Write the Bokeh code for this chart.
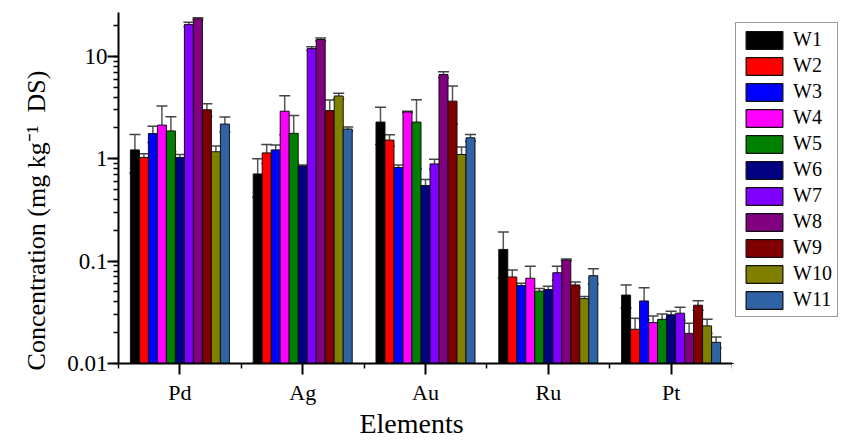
from bokeh.plotting import figure
from bokeh.layouts import row
from bokeh.models import (ColumnDataSource, Range1d, FixedTicker, Whisker, TeeHead,
                          Legend, LegendItem)
from bokeh.embed import file_html
from bokeh.resources import INLINE

elements = ["Pd", "Ag", "Au", "Ru", "Pt"]
series = ["W1", "W2", "W3", "W4", "W5", "W6", "W7", "W8", "W9", "W10", "W11"]
colors = ["#000000", "#FF0000", "#0000FF", "#FF00FF", "#008000", "#000080",
          "#8000FF", "#800080", "#800000", "#808000", "#3063A5"]
y_ticks = [0.01, 0.1, 1, 10]
y_tick_labels = ["0.01", "0.1", "1", "10"]

W1 = [1.22, 0.71, 2.28, 0.130, 0.0466]
W2 = [1.03, 1.14, 1.52, 0.070, 0.0216]
W3 = [1.76, 1.22, 0.82, 0.0577, 0.0408]
W4 = [2.13, 2.91, 2.86, 0.068, 0.0251]
W5 = [1.87, 1.77, 2.28, 0.0509, 0.027]
W6 = [1.03, 0.85, 0.548, 0.0528, 0.0299]
W7 = [20.5, 11.9, 0.89, 0.077, 0.031]
W8 = [23.3, 14.6, 6.64, 0.1026, 0.0197]
W9 = [3.01, 2.95, 3.65, 0.0585, 0.0371]
W10 = [1.17, 4.10, 1.10, 0.043, 0.0233]
W11 = [2.18, 1.95, 1.60, 0.072, 0.0161]

E1 = [0.50, 0.29, 0.90, 0.062, 0.012]
E2 = [0.09, 0.24, 0.19, 0.012, 0.006]
E3 = [0.32, 0.14, 0.05, 0.003, 0.014]
E4 = [1.15, 1.20, 0.05, 0.021, 0.004]
E5 = [0.70, 0.87, 1.48, 0.003, 0.0035]
E6 = [0.07, 0.02, 0.077, 0.004, 0.0024]
E7 = [1.0, 0.5, 0.10, 0.012, 0.0045]
E8 = [0.5, 0.5, 0.45, 0.002, 0.005]
E9 = [0.43, 0.80, 1.48, 0.004, 0.004]
E10 = [0.16, 0.26, 0.20, 0.002, 0.0037]
E11 = [0.37, 0.09, 0.12, 0.012, 0.002]

values = [W1, W2, W3, W4, W5, W6, W7, W8, W9, W10, W11]
errors = [E1, E2, E3, E4, E5, E6, E7, E8, E9, E10, E11]

NB = "\u00A0"
x_title = "Elements" + NB * 4
y_title = "Concentration (mg kg\u207B\u00B9" + NB + " DS)" + NB * 10

FONT = "Liberation Serif"
BAR_W = 0.0733

p = figure(width=732, height=441, y_axis_type="log",
           x_range=Range1d(-0.5, 4.5), y_range=Range1d(0.01, 26.8),
           output_backend="svg", toolbar_location=None,
           min_border_left=118, min_border_right=0,
           min_border_top=12, min_border_bottom=72)
p.outline_line_color = None
p.xgrid.grid_line_color = None
p.ygrid.grid_line_color = None

# legend panel (a second figure whose ranges show none of the data)
q = figure(width=111, height=441, x_range=Range1d(1000, 1001), y_range=Range1d(1000, 1001),
           output_backend="svg", toolbar_location=None,
           x_axis_location=None, y_axis_location=None,
           min_border_left=0, min_border_right=0, min_border_top=12, min_border_bottom=72)
q.outline_line_color = None
q.xgrid.grid_line_color = None
q.ygrid.grid_line_color = None

items = []
for i, (name, col) in enumerate(zip(series, colors)):
    xs = [k + (i - 5) * BAR_W for k in range(len(elements))]
    v = values[i]
    e = errors[i]
    src = ColumnDataSource(dict(x=xs, top=v,
                                upper=[a + b for a, b in zip(v, e)],
                                lower=[a - b for a, b in zip(v, e)]))
    p.vbar(x="x", top="top", bottom=0.01, width=BAR_W, source=src,
           fill_color=col, line_color="#111111", line_width=1)
    wk = Whisker(source=src, base="x", upper="upper", lower="lower",
                 line_color="#444444", line_width=1.5, line_alpha=0.9,
                 upper_head=TeeHead(size=11, line_color="#444444", line_width=1.5),
                 lower_head=TeeHead(size=11, line_color="#444444", line_width=1.5))
    p.add_layout(wk)
    r = q.vbar(x="x", top="top", bottom=0.01, width=BAR_W, source=src,
               fill_color=col, line_color="#111111", line_width=1.2)
    items.append(LegendItem(label=name, renderers=[r]))

xa = p.xaxis[0]
xa.ticker = FixedTicker(ticks=[0, 1, 2, 3, 4], minor_ticks=[-0.5, 0.5, 1.5, 2.5, 3.5, 4.5])
xa.major_label_overrides = {k: el for k, el in enumerate(elements)}
xa.axis_label = x_title

ya = p.yaxis[0]
ya.major_label_overrides = {t: s for t, s in zip(y_ticks, y_tick_labels)}
ya.axis_label = y_title

for ax in (xa, ya):
    ax.axis_line_width = 2
    ax.axis_line_color = "black"
    ax.major_tick_line_width = 2
    ax.minor_tick_line_width = 1.5
    ax.major_tick_out = 11
    ax.major_tick_in = 0
    ax.minor_tick_out = 5
    ax.minor_tick_in = 0
    ax.major_label_text_font = FONT
    ax.major_label_text_color = "black"
    ax.axis_label_text_font = FONT
    ax.axis_label_text_font_style = "normal"
    ax.axis_label_text_color = "black"

xa.axis_label_text_font_size = "28px"
ya.axis_label_text_font_size = "26px"
xa.major_label_text_font_size = "22px"
ya.major_label_text_font_size = "23px"
xa.major_label_text_line_height = 1.0
xa.axis_label_text_line_height = 1.0
xa.major_label_standoff = 5
ya.major_label_standoff = 0
xa.axis_label_standoff = 0
ya.axis_label_standoff = 13

legend = Legend(items=items, location=(3, 46), margin=0,
                label_text_font=FONT, label_text_font_size="20px",
                label_text_color="black", label_text_line_height=1.0,
                glyph_width=46, glyph_height=22, label_height=22,
                spacing=3, padding=5, label_standoff=6,
                border_line_color="#333333", border_line_width=1,
                background_fill_alpha=1)
q.add_layout(legend)

layout = row(p, q)
open("out.html", "w").write(file_html(layout, INLINE))
